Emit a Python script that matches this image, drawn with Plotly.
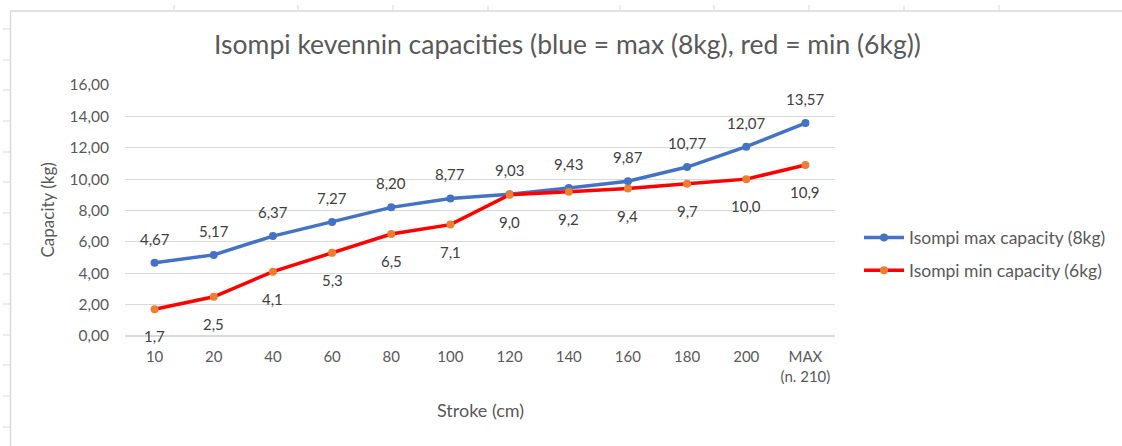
import plotly.graph_objects as go

categories = ["10", "20", "40", "60", "80", "100", "120", "140", "160", "180", "200", "MAX<br>(n. 210)"]
max_capacity = [4.67, 5.17, 6.37, 7.27, 8.20, 8.77, 9.03, 9.43, 9.87, 10.77, 12.07, 13.57]
min_capacity = [1.7, 2.5, 4.1, 5.3, 6.5, 7.1, 9.0, 9.2, 9.4, 9.7, 10.0, 10.9]
y_ticks = [0, 2, 4, 6, 8, 10, 12, 14, 16]

FONT = "Lato"
GREY = "#595959"
LABEL = "#404040"

W, H = 1122, 446
L, R, T, B = 125, 287, 85, 110


def px_x(p):
    return (p - L) / (W - L - R)


def px_y(p):
    return (H - B - p) / (H - T - B)


fig = go.Figure()
fig.add_trace(go.Scatter(
    x=categories, y=max_capacity, name="Isompi max capacity (8kg)",
    mode="lines+markers", legendgroup="a",
    line=dict(color="#4472C4", width=3.5),
    marker=dict(color="#4472C4", size=8),
))
fig.add_trace(go.Scatter(
    x=categories, y=min_capacity, name="Isompi min capacity (6kg)",
    mode="lines+markers", legendgroup="b",
    line=dict(color="#FF0000", width=3.5),
    marker=dict(color="#ED7D31", size=8),
))

annotations = []
for i, v in enumerate(max_capacity):
    annotations.append(dict(x=i, y=v, xref="x", yref="y", text=f"{v:.2f}".replace(".", ","),
                            showarrow=False, yshift=24, yanchor="middle",
                            font=dict(family=FONT, size=15, color=LABEL)))
for i, v in enumerate(min_capacity):
    annotations.append(dict(x=i, y=v, xref="x", yref="y", text=f"{v:.1f}".replace(".", ","),
                            showarrow=False, yshift=-27, yanchor="middle",
                            font=dict(family=FONT, size=15, color=LABEL)))

# axis titles
annotations.append(dict(x=0.5, y=px_y(410), xref="paper", yref="paper", text="Stroke (cm)",
                        showarrow=False, xanchor="center", yanchor="middle",
                        font=dict(family=FONT, size=18, color=GREY)))
annotations.append(dict(x=px_x(47), y=0.5, xref="paper", yref="paper", text="Capacity (kg)",
                        showarrow=False, xanchor="center", yanchor="middle", textangle=-90,
                        font=dict(family=FONT, size=17, color=GREY)))

# spreadsheet / chart-frame decoration
LN = "#D9D9D9"
shapes = [
    dict(type="line", xref="paper", yref="paper", x0=px_x(10.5), x1=px_x(1122), y0=px_y(11), y1=px_y(11),
         line=dict(color=LN, width=1.5), layer="below"),
    dict(type="line", xref="paper", yref="paper", x0=px_x(10.5), x1=px_x(10.5), y0=px_y(11), y1=px_y(446),
         line=dict(color=LN, width=1.5), layer="below"),
]
for yy in [29, 60, 90, 121, 152, 182, 213, 244, 274, 304, 335, 365, 396, 427]:
    shapes.append(dict(type="line", xref="paper", yref="paper", x0=px_x(3), x1=px_x(10),
                       y0=px_y(yy), y1=px_y(yy), line=dict(color=LN, width=1)))
for xx in [174, 298, 393, 488, 620, 714, 809, 904, 999]:
    shapes.append(dict(type="line", xref="paper", yref="paper", x0=px_x(xx), x1=px_x(xx),
                       y0=px_y(5), y1=px_y(10.5), line=dict(color=LN, width=1)))

fig.update_layout(
    width=W, height=H,
    margin=dict(l=L, r=R, t=T, b=B, autoexpand=False),
    paper_bgcolor="white", plot_bgcolor="white",
    separators=", ",
    font=dict(family=FONT, color=GREY, size=15),
    title=dict(text="Isompi kevennin capacities (blue = max (8kg), red = min (6kg))",
               x=567.5 / W, xanchor="center", y=1 - 45 / H, yanchor="middle",
               font=dict(family=FONT, size=26.5, color=GREY)),
    xaxis=dict(type="category", categoryorder="array", categoryarray=categories,
               range=[-0.5, len(categories) - 0.5], autorange=False,
               showgrid=False, showline=False, ticks="", automargin=False, tickangle=0,
               ticklabelstandoff=10,
               tickfont=dict(family=FONT, size=15, color=GREY)),
    yaxis=dict(range=[0, 16], tickvals=y_ticks, tickformat=".2f", automargin=False,
               showgrid=True, gridcolor="#D9D9D9", gridwidth=1, zeroline=True, zerolinecolor="#D9D9D9",
               showline=False, ticks="", ticklabelstandoff=15,
               tickfont=dict(family=FONT, size=15.5, color=GREY)),
    legend=dict(x=px_x(859), y=px_y(254), xanchor="left", yanchor="middle",
                font=dict(family=FONT, size=17.5, color=GREY), tracegroupgap=7,
                itemwidth=40),
    showlegend=True,
    shapes=shapes,
    annotations=annotations,
)

fig.write_html("out.html", config={"displayModeBar": False},
               post_script="document.body.style.margin='0';document.body.style.padding='0';")
